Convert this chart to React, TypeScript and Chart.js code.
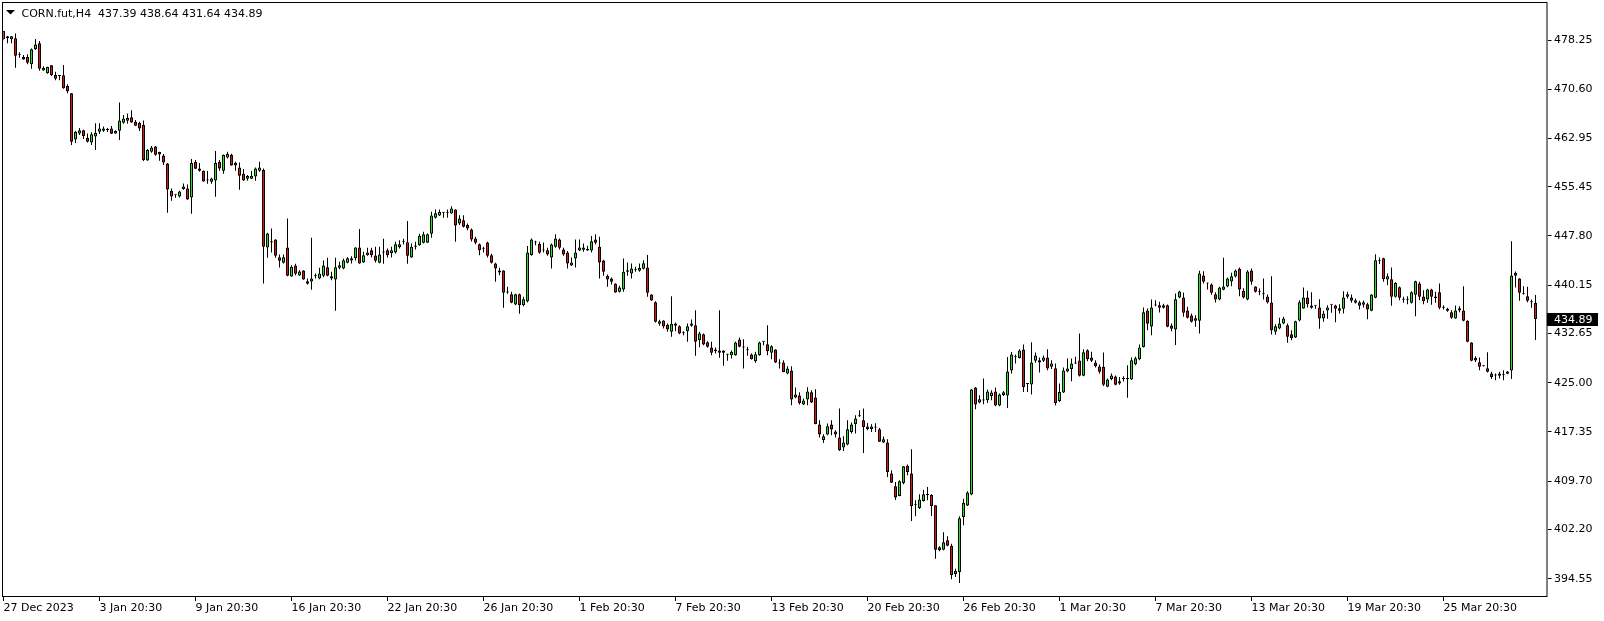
import React, { useEffect, useRef } from 'react';
import { Chart, registerables } from 'chart.js';

Chart.register(...registerables);

const symbolLabel = 'CORN.fut,H4';

const tickLabels = [
  '27 Dec 2023', '3 Jan 20:30', '9 Jan 20:30', '16 Jan 20:30', '22 Jan 20:30', '26 Jan 20:30',
  '1 Feb 20:30', '7 Feb 20:30', '13 Feb 20:30', '20 Feb 20:30', '26 Feb 20:30', '1 Mar 20:30',
  '7 Mar 20:30', '13 Mar 20:30', '19 Mar 20:30', '25 Mar 20:30',
];
const barsPerTick = 24;
const emptyBarsRight = 3;

const yTicks = [478.25, 470.6, 462.95, 455.45, 447.8, 440.15, 432.65, 425.0, 417.35, 409.7, 402.2, 394.55];
const yMin = 391.71;
const yMax = 484.0;

const opens = [
  479.65, 478.82, 478.35, 478.51, 476.02, 475.61, 475.61, 474.47, 476.80, 477.73,
  473.53, 473.07, 474.31, 472.81, 472.76, 472.76, 471.10, 469.96, 462.81, 463.74,
  464.21, 463.02, 462.34, 463.27, 464.00, 464.16, 464.26, 464.52, 463.74, 464.16,
  465.40, 465.71, 466.23, 465.55, 465.35, 465.04, 459.54, 460.89, 461.72, 460.84,
  460.32, 459.08, 454.83, 454.21, 453.95, 455.09, 455.19, 453.79, 459.28, 458.30,
  457.94, 456.43, 456.23, 456.43, 459.34, 457.94, 460.01, 460.37, 459.18, 458.46,
  457.47, 456.69, 456.69, 457.06, 457.94, 458.04, 446.02, 447.00, 447.26, 444.51,
  443.63, 446.02, 441.51, 443.22, 441.66, 442.44, 440.78, 440.73, 441.56, 441.20,
  441.61, 442.96, 441.56, 441.04, 442.85, 442.75, 443.63, 443.99, 444.36, 446.02,
  443.68, 444.82, 445.60, 444.77, 443.63, 445.24, 445.60, 445.13, 445.24, 446.07,
  446.90, 446.84, 444.46, 446.12, 446.38, 446.74, 446.74, 448.14, 450.63, 450.99,
  451.46, 451.40, 451.30, 451.92, 449.75, 450.26, 449.49, 448.81, 447.41, 446.53,
  445.81, 446.79, 444.82, 443.53, 442.44, 442.44, 439.02, 438.76, 437.15, 438.76,
  437.05, 437.68, 444.83, 446.80, 446.54, 445.60, 445.60, 444.46, 446.12, 447.26,
  445.71, 445.24, 443.22, 444.31, 445.55, 445.66, 445.76, 445.55, 447.26, 446.12,
  444.00, 441.61, 441.20, 440.37, 439.13, 439.49, 442.49, 441.98, 442.49, 442.39,
  442.70, 442.91, 438.71, 437.52, 434.15, 434.67, 434.00, 432.91, 433.84, 433.79,
  432.70, 433.01, 433.84, 433.95, 431.61, 432.55, 431.30, 430.47, 430.16, 430.01,
  430.01, 429.39, 429.28, 429.28, 431.72, 430.47, 430.22, 429.39, 428.35, 429.28,
  431.36, 430.99, 429.65, 430.15, 427.98, 428.13, 426.42, 426.89, 422.69, 423.00,
  421.61, 422.38, 423.52, 422.69, 418.50, 416.11, 416.94, 418.50, 417.41, 416.48,
  414.92, 415.39, 417.36, 418.60, 419.84, 419.17, 418.19, 417.82, 418.03, 417.77,
  415.70, 415.70, 410.88, 408.91, 407.41, 409.43, 412.12, 410.88, 405.96, 405.54,
  406.63, 407.56, 407.56, 405.96, 399.43, 399.07, 400.52, 399.69, 395.28, 395.60,
  404.14, 405.91, 407.62, 424.25, 421.92, 422.23, 422.28, 422.95, 423.63, 421.45,
  423.11, 423.00, 426.89, 428.96, 428.86, 430.15, 424.87, 424.72, 428.40, 428.50,
  428.40, 428.92, 427.47, 427.26, 422.18, 423.48, 426.74, 427.15, 428.14, 428.45,
  426.07, 430.06, 428.92, 428.14, 427.52, 427.47, 424.36, 425.60, 425.96, 424.87,
  425.60, 425.60, 425.50, 427.88, 428.66, 430.57, 436.22, 433.73, 437.00, 437.05,
  437.05, 437.05, 433.89, 433.27, 438.24, 438.24, 436.22, 435.44, 434.62, 434.62,
  441.66, 440.42, 440.26, 438.76, 437.93, 439.43, 439.95, 440.73, 441.51, 442.70,
  439.28, 437.93, 442.44, 439.95, 439.07, 438.81, 438.40, 437.47, 432.91, 433.42,
  434.20, 433.94, 432.54, 432.03, 434.67, 436.53, 438.24, 437.00, 436.95, 436.69,
  434.98, 436.22, 437.10, 437.00, 436.59, 436.48, 438.35, 438.24, 437.41, 437.52,
  437.10, 437.21, 436.17, 438.19, 443.94, 444.36, 441.04, 441.09, 438.35, 439.85,
  437.88, 437.88, 437.41, 438.66, 440.42, 438.40, 437.93, 439.49, 438.40, 439.07,
  436.69, 436.48, 435.96, 434.98, 436.22, 436.22, 434.62, 431.25, 428.87, 428.19,
  427.62, 427.26, 426.43, 426.12, 426.07, 426.17, 426.38, 426.90, 442.08, 441.20,
  438.76, 438.45, 437.57, 437.39,
];

const highs = [
  479.70, 478.87, 478.87, 479.28, 476.33, 475.92, 476.02, 476.95, 478.40, 478.09,
  474.16, 474.10, 474.36, 473.33, 472.81, 474.36, 471.36, 470.01, 464.10, 464.57,
  464.31, 463.74, 463.90, 465.30, 465.30, 464.83, 464.57, 464.88, 464.21, 468.56,
  466.59, 466.85, 467.32, 465.81, 465.55, 465.76, 461.31, 461.77, 461.77, 460.89,
  460.53, 459.13, 455.19, 454.26, 454.83, 455.97, 455.81, 459.75, 459.60, 459.13,
  457.99, 457.89, 456.85, 461.00, 459.60, 460.48, 460.89, 460.58, 459.34, 459.23,
  458.20, 457.26, 457.89, 458.46, 459.34, 458.30, 448.30, 448.97, 447.31, 444.93,
  444.93, 450.52, 443.27, 443.48, 442.49, 442.49, 441.20, 447.52, 441.97, 442.85,
  443.99, 444.41, 442.23, 444.41, 443.79, 444.31, 444.51, 444.67, 446.07, 448.87,
  445.34, 445.96, 445.96, 446.12, 446.12, 447.36, 445.86, 446.12, 446.90, 447.15,
  447.36, 450.11, 446.64, 446.90, 448.14, 448.45, 448.19, 451.56, 451.92, 451.92,
  451.51, 451.92, 452.44, 451.97, 451.04, 451.04, 449.75, 448.97, 447.67, 446.64,
  446.12, 446.90, 445.03, 443.63, 442.85, 442.49, 439.90, 439.12, 438.81, 438.87,
  438.35, 446.23, 447.42, 447.05, 446.90, 446.80, 445.97, 446.64, 448.09, 447.42,
  445.97, 445.45, 444.46, 447.26, 447.26, 446.64, 446.28, 447.78, 448.09, 447.68,
  444.10, 441.82, 441.36, 440.47, 440.06, 444.31, 443.69, 443.53, 443.01, 443.53,
  444.05, 444.83, 438.76, 437.68, 434.77, 434.72, 434.21, 438.45, 434.36, 433.95,
  433.01, 434.21, 434.83, 436.28, 432.91, 432.65, 431.46, 431.36, 430.47, 436.28,
  430.06, 429.49, 430.01, 431.36, 432.03, 431.77, 430.58, 429.54, 429.80, 431.36,
  431.46, 433.95, 430.84, 430.21, 428.65, 428.50, 427.56, 427.56, 424.25, 423.52,
  422.54, 424.30, 423.83, 423.99, 419.17, 416.99, 418.65, 419.17, 417.62, 420.98,
  416.68, 419.17, 418.81, 419.95, 420.72, 420.98, 418.76, 418.55, 418.70, 417.98,
  416.63, 416.22, 411.40, 409.58, 409.84, 412.07, 412.28, 414.66, 406.74, 407.67,
  408.39, 408.81, 407.67, 405.96, 399.58, 401.76, 401.14, 400.00, 396.11, 404.25,
  406.99, 408.13, 424.04, 424.35, 423.06, 425.65, 423.94, 423.83, 424.25, 423.32,
  423.73, 429.01, 429.79, 429.38, 430.21, 430.93, 424.97, 431.30, 429.69, 428.92,
  429.23, 430.21, 428.50, 427.98, 424.87, 427.36, 428.76, 428.76, 429.02, 432.65,
  430.21, 430.21, 429.80, 428.50, 427.83, 429.69, 425.65, 426.43, 426.12, 425.91,
  426.01, 427.72, 428.92, 429.02, 430.94, 436.69, 436.53, 437.93, 437.83, 437.57,
  437.26, 437.15, 434.20, 438.86, 439.28, 439.02, 436.79, 435.76, 435.50, 442.39,
  442.34, 440.52, 440.42, 439.07, 439.90, 444.41, 441.35, 442.08, 442.59, 442.91,
  439.69, 442.49, 442.75, 440.00, 439.64, 441.20, 438.71, 441.56, 434.10, 435.08,
  435.24, 434.20, 433.17, 434.62, 437.83, 439.80, 439.28, 439.07, 437.00, 437.98,
  436.17, 437.05, 437.15, 437.10, 437.21, 439.23, 439.12, 438.71, 438.09, 437.73,
  437.78, 437.41, 438.76, 444.98, 444.46, 444.41, 441.97, 442.91, 440.63, 439.95,
  438.35, 438.45, 439.23, 440.83, 440.68, 439.38, 439.59, 439.59, 439.12, 440.42,
  437.05, 436.64, 436.27, 437.00, 436.90, 440.01, 434.72, 431.30, 429.12, 428.92,
  427.67, 429.75, 426.69, 426.43, 426.69, 426.95, 426.84, 447.00, 442.29, 441.25,
  440.01, 439.90, 437.93, 438.64,
];

const lows = [
  478.20, 477.73, 477.73, 473.95, 475.50, 475.19, 474.47, 473.79, 476.69, 473.48,
  473.48, 473.02, 472.65, 471.98, 471.98, 470.68, 469.96, 461.93, 462.24, 463.48,
  462.86, 462.34, 461.93, 461.15, 463.64, 464.00, 463.95, 463.64, 463.69, 462.70,
  465.24, 465.24, 465.40, 464.88, 464.10, 459.44, 459.49, 460.74, 460.27, 459.49,
  458.82, 451.41, 453.27, 453.74, 453.79, 454.98, 453.43, 451.25, 458.20, 457.78,
  456.23, 455.92, 455.92, 453.90, 457.94, 457.47, 459.85, 458.71, 457.94, 454.98,
  456.38, 456.38, 456.64, 456.38, 457.78, 440.42, 444.41, 445.24, 444.41, 442.91,
  443.53, 441.56, 441.46, 441.71, 441.61, 440.99, 440.26, 439.43, 441.20, 441.09,
  441.40, 441.56, 440.94, 436.17, 442.65, 442.65, 443.58, 443.53, 443.99, 443.48,
  443.63, 444.72, 444.46, 443.68, 443.58, 443.48, 444.46, 444.46, 445.08, 445.86,
  446.48, 443.48, 444.41, 445.70, 446.27, 446.64, 446.74, 447.52, 450.52, 450.89,
  450.63, 450.63, 451.25, 446.90, 449.49, 449.12, 448.71, 446.95, 446.53, 444.82,
  445.24, 444.46, 443.53, 440.68, 441.71, 436.64, 438.81, 437.36, 437.05, 435.71,
  436.90, 437.47, 444.72, 446.38, 445.03, 445.24, 444.72, 442.75, 445.97, 445.71,
  444.72, 442.75, 443.12, 442.91, 445.45, 445.34, 445.50, 445.24, 446.48, 441.20,
  441.61, 439.90, 440.27, 438.97, 439.02, 439.13, 441.61, 441.20, 442.24, 442.24,
  442.60, 438.35, 437.73, 434.36, 433.84, 433.43, 432.91, 432.13, 433.01, 432.55,
  432.39, 431.36, 433.69, 429.18, 430.53, 430.84, 430.42, 429.28, 429.54, 428.87,
  427.62, 428.40, 428.76, 429.18, 430.53, 427.21, 429.18, 428.61, 428.09, 429.18,
  430.84, 429.28, 428.66, 428.08, 427.20, 426.63, 426.32, 421.50, 422.59, 421.61,
  421.55, 421.50, 421.86, 418.55, 416.48, 415.65, 416.84, 416.84, 416.48, 414.40,
  414.40, 415.28, 417.10, 417.10, 419.69, 414.09, 417.62, 417.36, 417.36, 415.80,
  415.65, 410.36, 409.43, 406.79, 407.36, 409.22, 410.62, 403.52, 404.25, 405.39,
  406.53, 406.74, 404.30, 397.67, 398.81, 398.96, 399.58, 394.46, 394.82, 393.89,
  402.85, 405.85, 407.51, 420.88, 421.81, 421.66, 421.86, 422.28, 421.35, 421.35,
  422.95, 421.09, 426.42, 427.98, 428.76, 423.57, 423.57, 423.16, 428.09, 426.58,
  428.24, 426.95, 427.15, 421.45, 422.02, 423.42, 426.64, 425.24, 427.93, 425.96,
  426.02, 428.35, 428.24, 427.36, 426.43, 424.51, 424.30, 425.39, 424.62, 424.67,
  425.19, 422.65, 425.44, 427.72, 428.50, 430.47, 433.16, 432.39, 436.90, 435.91,
  436.53, 433.63, 433.01, 430.88, 438.14, 435.24, 434.98, 434.36, 433.68, 432.65,
  440.42, 439.49, 438.66, 437.47, 437.83, 439.38, 439.85, 440.00, 441.35, 438.45,
  438.09, 437.83, 440.21, 439.02, 438.60, 437.93, 437.31, 432.49, 432.44, 433.32,
  434.10, 431.20, 431.61, 431.97, 434.56, 436.48, 436.69, 436.48, 436.48, 433.37,
  434.46, 434.93, 435.86, 434.41, 435.76, 435.76, 438.09, 437.41, 437.31, 436.38,
  436.69, 434.88, 436.12, 438.14, 443.43, 440.68, 440.16, 436.95, 438.24, 437.83,
  437.41, 437.21, 437.31, 435.34, 437.83, 437.21, 437.41, 437.10, 437.41, 436.43,
  436.38, 436.02, 434.93, 434.93, 435.96, 434.56, 431.30, 428.35, 428.24, 426.95,
  427.52, 426.59, 425.60, 425.39, 425.65, 425.39, 426.33, 425.60, 439.80, 437.73,
  438.71, 437.52, 436.64, 431.64,
];

const closes = [
  478.40, 478.51, 478.82, 475.81, 475.97, 475.24, 474.73, 476.80, 477.57, 473.79,
  473.90, 474.05, 472.76, 472.24, 472.65, 470.74, 470.27, 462.45, 464.00, 464.21,
  463.33, 462.45, 463.59, 463.79, 464.52, 464.52, 464.26, 463.69, 464.10, 465.76,
  466.07, 466.12, 465.45, 464.93, 464.52, 459.60, 461.20, 461.56, 460.42, 460.48,
  459.23, 455.04, 453.95, 454.21, 454.73, 455.50, 453.48, 459.13, 458.25, 457.94,
  456.28, 456.43, 456.75, 459.13, 458.30, 460.37, 460.53, 458.77, 458.77, 457.16,
  456.43, 457.11, 457.16, 458.30, 458.46, 446.12, 448.19, 446.79, 444.72, 443.94,
  444.51, 441.61, 443.01, 441.92, 442.28, 441.04, 440.37, 441.20, 441.61, 441.97,
  443.22, 441.61, 441.20, 442.96, 443.27, 444.05, 444.36, 444.36, 446.02, 443.53,
  444.82, 445.24, 444.82, 443.94, 444.93, 445.24, 444.82, 445.60, 446.53, 446.53,
  447.00, 444.72, 446.12, 446.33, 447.83, 448.09, 448.09, 450.99, 451.35, 451.51,
  451.40, 451.46, 452.08, 449.43, 450.52, 449.23, 448.97, 447.26, 446.74, 445.60,
  445.81, 444.72, 443.63, 442.75, 442.13, 438.97, 439.02, 437.41, 438.76, 437.05,
  437.99, 445.24, 447.26, 446.85, 445.19, 445.55, 444.93, 446.48, 447.42, 445.97,
  444.93, 443.53, 443.69, 445.24, 446.02, 446.02, 445.55, 447.00, 446.74, 443.69,
  442.24, 441.04, 440.68, 439.02, 439.80, 442.24, 442.24, 442.75, 442.49, 442.81,
  443.58, 438.97, 437.78, 434.46, 434.57, 433.74, 433.27, 434.15, 434.21, 432.65,
  432.70, 433.79, 434.21, 431.36, 432.65, 430.94, 430.58, 429.65, 429.90, 429.65,
  429.65, 429.34, 429.80, 431.25, 430.58, 430.47, 430.11, 428.66, 429.44, 431.25,
  431.36, 429.90, 430.68, 428.13, 427.98, 426.68, 427.20, 422.38, 423.16, 421.86,
  422.23, 423.63, 421.92, 418.60, 416.94, 416.68, 418.24, 417.72, 416.94, 414.51,
  415.70, 417.77, 418.50, 419.43, 419.79, 418.13, 417.82, 418.19, 418.03, 415.85,
  416.22, 411.14, 409.48, 407.15, 409.69, 412.02, 411.14, 405.85, 405.96, 406.84,
  407.67, 407.56, 405.85, 399.07, 398.96, 400.21, 399.69, 395.13, 395.75, 403.94,
  406.37, 407.93, 423.94, 421.61, 422.43, 422.28, 423.63, 423.47, 421.45, 423.16,
  423.52, 426.74, 429.38, 429.01, 430.00, 424.35, 424.82, 428.14, 429.23, 428.14,
  428.92, 427.21, 427.98, 421.87, 423.58, 426.90, 427.21, 427.98, 427.98, 426.07,
  429.75, 428.66, 428.40, 427.57, 426.69, 424.67, 425.50, 426.12, 424.67, 425.24,
  425.65, 425.65, 428.50, 428.81, 430.47, 435.96, 434.15, 436.69, 437.05, 436.64,
  436.64, 433.68, 433.37, 437.98, 439.18, 435.86, 435.08, 434.46, 435.03, 441.97,
  440.68, 440.42, 438.97, 437.93, 439.80, 439.95, 441.20, 441.56, 442.44, 439.49,
  438.24, 442.28, 440.68, 439.12, 439.07, 438.76, 437.47, 433.16, 433.79, 434.20,
  434.98, 432.13, 431.97, 434.56, 437.52, 438.24, 437.21, 436.64, 436.95, 434.98,
  435.76, 436.69, 437.10, 436.48, 436.17, 438.24, 438.76, 437.73, 437.83, 436.95,
  437.52, 436.38, 438.71, 444.05, 443.94, 441.09, 441.56, 438.35, 440.52, 438.19,
  437.88, 437.93, 439.07, 440.78, 438.35, 437.67, 439.49, 438.35, 438.14, 436.64,
  436.64, 436.17, 435.08, 436.22, 436.59, 434.62, 431.35, 428.40, 428.45, 427.47,
  427.57, 426.69, 425.91, 426.12, 426.43, 426.17, 426.74, 441.66, 441.61, 438.97,
  438.76, 437.73, 437.52, 434.89,
];

const FONT = "'DejaVu Sans', Verdana, sans-serif";
const FONT_SIZE = 11;
const BULL = '#1ee61e';
const BEAR = '#dc1414';

const overlayPlugin = {
  id: 'mt4Overlay',
  afterDraw(chart: any) {
    const ctx = chart.ctx;
    const area = chart.chartArea;
    const yScale = chart.scales.y;
    ctx.save();
    // frame
    ctx.strokeStyle = '#000';
    ctx.lineWidth = 1;
    ctx.strokeRect(2.5, 2.5, Math.round(area.right) - 1 - 2.5, Math.round(area.bottom) - 0.5 - 2.5);
    // title
    const n = closes.length - 1;
    ctx.fillStyle = '#000';
    ctx.beginPath();
    ctx.moveTo(6, 10);
    ctx.lineTo(15, 10);
    ctx.lineTo(10.5, 14.5);
    ctx.closePath();
    ctx.fill();
    ctx.font = `${FONT_SIZE}px ${FONT}`;
    ctx.textBaseline = 'alphabetic';
    ctx.textAlign = 'left';
    const title = `${symbolLabel}  ${opens[n].toFixed(2)} ${highs[n].toFixed(2)} ${lows[n].toFixed(2)} ${closes[n].toFixed(2)}`;
    ctx.fillText(title, 21.5, 16.5);
    // last price label
    const py = yScale.getPixelForValue(closes[n]);
    const bx = Math.round(area.right) - 1;
    ctx.fillStyle = '#000';
    ctx.fillRect(bx, Math.round(py - 6.5), 51, 13);
    ctx.fillStyle = '#fff';
    ctx.textBaseline = 'middle';
    ctx.fillText(closes[n].toFixed(2), 1554, Math.round(py - 6.5) + 7);
    ctx.restore();
  },
};

export default function App() {
  const canvasRef = useRef<HTMLCanvasElement | null>(null);

  useEffect(() => {
    const canvas = canvasRef.current;
    if (!canvas) return;
    const categories = opens
      .map((_, i) => (i % barsPerTick === 0 && tickLabels[i / barsPerTick] ? tickLabels[i / barsPerTick] : ''))
      .concat(Array(emptyBarsRight).fill(''));

    const bodyData = opens.map((o, i) => [o, closes[i]]);
    const wickData = lows.map((l, i) => [l, highs[i]]);
    const bodyColors = opens.map((o, i) => (closes[i] > o ? BULL : closes[i] < o ? BEAR : '#000'));

    const chart = new Chart(canvas, {
      type: 'bar',
      data: {
        labels: categories,
        datasets: [
          {
            label: 'body',
            data: bodyData as any,
            backgroundColor: bodyColors,
            borderColor: '#000',
            borderWidth: 1,
            borderSkipped: false,
            barThickness: 3,
            grouped: false,
            minBarLength: 1,
            inflateAmount: 0,
          } as any,
          {
            label: 'wick',
            data: wickData as any,
            backgroundColor: '#000',
            borderWidth: 0,
            barThickness: 1,
            grouped: false,
            minBarLength: 1,
            inflateAmount: 0,
          } as any,
        ],
      },
      options: {
        responsive: false,
        animation: false,
        devicePixelRatio: 1,
        layout: { padding: { left: 3.5, top: 3, right: 0, bottom: 0 } },
        plugins: {
          legend: { display: false },
          tooltip: { enabled: false },
          title: { display: false },
        },
        scales: {
          x: {
            type: 'category',
            offset: false,
            grid: {
              offset: false,
              drawOnChartArea: false,
              drawTicks: true,
              tickLength: 4,
              lineWidth: 1,
              color: (c: any) => (c.tick && c.tick.label ? '#000' : 'rgba(0,0,0,0)'),
            },
            border: { display: false },
            ticks: {
              autoSkip: false,
              maxRotation: 0,
              minRotation: 0,
              align: 'start',
              padding: 1,
              color: '#000',
              font: { family: FONT, size: FONT_SIZE },
            },
            afterFit: (s: any) => {
              s.height = 24;
              s.paddingLeft = 0;
              s.paddingRight = 0;
            },
          },
          y: {
            type: 'linear',
            position: 'right',
            min: yMin,
            max: yMax,
            afterBuildTicks: (s: any) => {
              s.ticks = yTicks.map((v) => ({ value: v }));
            },
            grid: {
              drawOnChartArea: false,
              drawTicks: true,
              tickLength: 4,
              color: '#000',
            },
            border: { display: false },
            ticks: {
              padding: 2.5,
              color: '#000',
              font: { family: FONT, size: FONT_SIZE },
              callback: (v: any) => Number(v).toFixed(2),
            },
            afterFit: (s: any) => {
              s.width = 56.5;
              s.paddingTop = 0;
              s.paddingBottom = 0;
            },
          },
        },
      } as any,
      plugins: [overlayPlugin],
    });
    return () => chart.destroy();
  }, []);

  return (
    <div style={{ position: 'absolute', left: 0, top: 0, width: 1604, height: 621, background: '#fff' }}>
      <canvas ref={canvasRef} width={1604} height={621} style={{ display: 'block' }} />
    </div>
  );
}
